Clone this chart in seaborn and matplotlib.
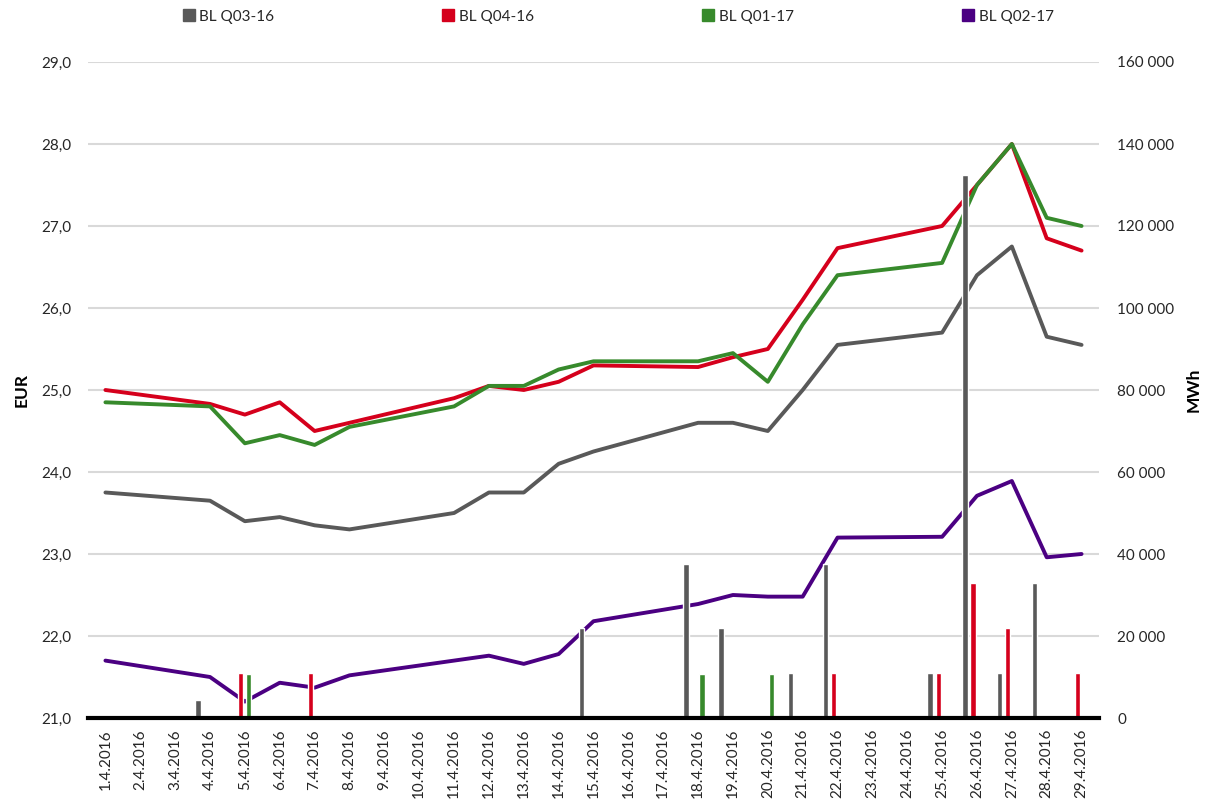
import pandas as pd
import matplotlib
matplotlib.use("Agg")
import matplotlib.pyplot as plt
import seaborn as sns
from matplotlib.lines import Line2D
from matplotlib.ticker import FuncFormatter, MultipleLocator

sns.set_theme(style="white")
plt.rcParams['font.family'] = ['Lato', 'DejaVu Sans']

# calendar axis
dates = ["1.4.2016", "2.4.2016", "3.4.2016", "4.4.2016", "5.4.2016", "6.4.2016",
         "7.4.2016", "8.4.2016", "9.4.2016", "10.4.2016", "11.4.2016", "12.4.2016",
         "13.4.2016", "14.4.2016", "15.4.2016", "16.4.2016", "17.4.2016", "18.4.2016",
         "19.4.2016", "20.4.2016", "21.4.2016", "22.4.2016", "23.4.2016", "24.4.2016",
         "25.4.2016", "26.4.2016", "27.4.2016", "28.4.2016", "29.4.2016"]

# trading days for the price lines
trade_days = ["1.4.2016", "4.4.2016", "5.4.2016", "6.4.2016", "7.4.2016", "8.4.2016",
              "11.4.2016", "12.4.2016", "13.4.2016", "14.4.2016", "15.4.2016",
              "18.4.2016", "19.4.2016", "20.4.2016", "21.4.2016", "22.4.2016",
              "25.4.2016", "26.4.2016", "27.4.2016", "28.4.2016", "29.4.2016"]

series = ["BL Q03-16", "BL Q04-16", "BL Q01-17", "BL Q02-17"]
colors = {"BL Q03-16": "#595959", "BL Q04-16": "#d5001c",
          "BL Q01-17": "#378a2c", "BL Q02-17": "#4b0082"}

# prices EUR/MWh
q03_16 = [23.75, 23.65, 23.40, 23.45, 23.35, 23.30, 23.50, 23.75, 23.75, 24.10, 24.25,
          24.60, 24.60, 24.50, 25.00, 25.55, 25.70, 26.40, 26.75, 25.65, 25.55]
q04_16 = [25.00, 24.83, 24.70, 24.85, 24.50, 24.60, 24.90, 25.05, 25.00, 25.10, 25.30,
          25.28, 25.40, 25.50, 26.10, 26.73, 27.00, 27.50, 28.00, 26.85, 26.70]
q01_17 = [24.85, 24.80, 24.35, 24.45, 24.33, 24.55, 24.80, 25.05, 25.05, 25.25, 25.35,
          25.35, 25.45, 25.10, 25.80, 26.40, 26.55, 27.50, 28.00, 27.10, 27.00]
q02_17 = [21.70, 21.50, 21.20, 21.43, 21.37, 21.52, 21.70, 21.76, 21.66, 21.78, 22.18,
          22.39, 22.50, 22.48, 22.48, 23.20, 23.21, 23.71, 23.89, 22.96, 23.00]

# traded volumes MWh
q03_vol_days = ["4.4.2016", "15.4.2016", "18.4.2016", "19.4.2016", "21.4.2016",
                "22.4.2016", "25.4.2016", "26.4.2016", "27.4.2016", "28.4.2016"]
q03_vol = [4400, 22000, 37500, 22000, 11000, 37500, 11000, 132500, 11000, 33000]
q04_vol_days = ["5.4.2016", "7.4.2016", "22.4.2016", "25.4.2016", "26.4.2016",
                "27.4.2016", "29.4.2016"]
q04_vol = [11000, 11000, 11000, 11000, 33000, 22000, 11000]
q01_vol_days = ["5.4.2016", "18.4.2016", "20.4.2016"]
q01_vol = [10800, 10800, 10800]

price_df = pd.DataFrame({"day": trade_days, "BL Q03-16": q03_16, "BL Q04-16": q04_16,
                         "BL Q01-17": q01_17, "BL Q02-17": q02_17})
price_df["pos"] = [dates.index(d) for d in price_df["day"]]
price_long = price_df.melt(id_vars=["day", "pos"], var_name="series", value_name="eur")

vol_df = pd.concat([
    pd.DataFrame({"day": q03_vol_days, "mwh": q03_vol, "series": "BL Q03-16"}),
    pd.DataFrame({"day": q04_vol_days, "mwh": q04_vol, "series": "BL Q04-16"}),
    pd.DataFrame({"day": q01_vol_days, "mwh": q01_vol, "series": "BL Q01-17"}),
], ignore_index=True)

fig = plt.figure(figsize=(12.12, 8.05), dpi=100)
ax = fig.add_axes([88 / 1212, 1 - 718 / 805, 1011 / 1212, 656 / 805])
ax2 = ax.twinx()

# volume bars on the secondary axis
sns.barplot(data=vol_df, x="day", y="mwh", hue="series", order=dates,
            hue_order=series, palette=colors, width=0.92, gap=0.35,
            errorbar=None, saturation=1, ax=ax2, legend=False)

# price lines on the primary axis
sns.lineplot(data=price_long, x="pos", y="eur", hue="series", hue_order=series,
             palette=colors, linewidth=2.8, ax=ax, legend=False)

ax.set_xlim(-0.5, len(dates) - 0.5)
ax.set_ylim(21, 29)
ax.yaxis.set_major_locator(MultipleLocator(1))
ax.yaxis.set_major_formatter(FuncFormatter(lambda v, p: f"{v:.1f}".replace(".", ",")))
ax.grid(axis="y", color="#d9d9d9", linewidth=1.5)
ax.grid(axis="x", visible=False)
ax2.grid(False)

ax2.set_ylim(0, 160000)
ax2.yaxis.set_major_locator(MultipleLocator(20000))
ax2.yaxis.set_major_formatter(FuncFormatter(lambda v, p: f"{int(v):,}".replace(",", " ")))

ax.set_xticks(range(len(dates)))
ax.set_xticklabels(dates, rotation=90)
ax.tick_params(axis="x", length=0, pad=8, labelsize=11, colors="#262626")
ax.tick_params(axis="y", length=0, pad=12, labelsize=11, colors="#262626")
ax2.tick_params(axis="y", length=0, pad=13, labelsize=11, colors="#262626")

ax.set_xlabel("")
ax2.set_xlabel("")
ax.set_ylabel("EUR", fontsize=12.5, fontweight="bold", labelpad=8, color="black")
ax2.set_ylabel("MWh", fontsize=12.5, fontweight="bold", labelpad=8, color="black")

for a in (ax, ax2):
    for s in ["top", "left", "right"]:
        a.spines[s].set_visible(False)
ax.spines["bottom"].set_visible(False)
ax2.spines["bottom"].set_color("black")
ax2.spines["bottom"].set_linewidth(3)

handles = [Line2D([0], [0], marker="s", linestyle="none", markersize=8,
                  markerfacecolor=colors[s], markeredgecolor=colors[s]) for s in series]
fig.legend(handles, series, loc="upper center", bbox_to_anchor=(0.51, 1.005), ncol=4,
           frameon=False, fontsize=11, handletextpad=0.3, columnspacing=11.0,
           handlelength=0.8)

fig.savefig("out.png", dpi=100)
